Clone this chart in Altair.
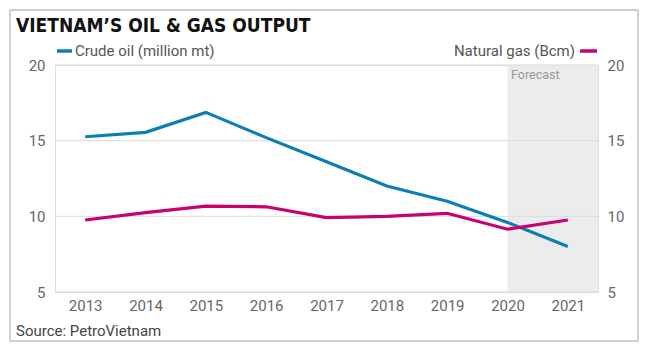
import altair as alt
import pandas as pd

years = [2013, 2014, 2015, 2016, 2017, 2018, 2019, 2020, 2021]
crude_oil = [15.26, 15.55, 16.87, 15.2, 13.6, 12.0, 11.0, 9.6, 8.0]
natural_gas = [9.76, 10.24, 10.68, 10.63, 9.91, 10.0, 10.2, 9.15, 9.76]
x_ticks = [2013, 2014, 2015, 2016, 2017, 2018, 2019, 2020, 2021]
y_ticks = [5, 10, 15, 20]
forecast_start = [2020]
forecast_end = [2021.5]

BLUE = "#0a7fb2"
MAGENTA = "#c9006f"
FONT = "Roboto"
TITLE_FONT = "'DejaVu Sans Condensed', 'Liberation Sans Narrow', Roboto"

df = pd.DataFrame({"year": years, "oil": crude_oil, "gas": natural_gas})
fc = pd.DataFrame({"start": forecast_start, "end": forecast_end})
gr = pd.DataFrame({"v": y_ticks})

W, H = 543, 227
xs = alt.Scale(domain=[2012.5, 2021.5], nice=False, zero=False)
ys = alt.Scale(domain=[5, 20], nice=False, zero=False)

xaxis = alt.Axis(values=x_ticks, format="d", grid=False, domain=False, ticks=False,
                 labelFont=FONT, labelFontSize=15, labelColor="#666", labelPadding=6, title=None)
yaxis_left = alt.Axis(values=y_ticks, grid=False, domain=False, ticks=False,
                      labelFont=FONT, labelFontSize=15, labelColor="#666", labelPadding=10, title=None)
yaxis_right = alt.Axis(values=y_ticks, orient="right", grid=False, domain=False, ticks=False,
                       labelFont=FONT, labelFontSize=15, labelColor="#666", labelPadding=9, title=None)

X = alt.X("year:Q", scale=xs, axis=xaxis)
base = alt.Chart(df)

border = alt.Chart(df).mark_rect(fill=None, stroke="#cfcfcf", strokeWidth=1).encode(
    x=alt.value(-45), x2=alt.value(583), y=alt.value(-55), y2=alt.value(276)
)

shade = alt.Chart(fc).mark_rect(color="#ececec").encode(
    x=alt.X("start:Q", scale=xs, axis=xaxis),
    x2="end:Q",
    y=alt.value(0), y2=alt.value(H),
)

grid = alt.Chart(gr).mark_rule(color="#dadada", strokeWidth=1).encode(
    y=alt.Y("v:Q", scale=ys, axis=yaxis_left),
    x=alt.value(0), x2=alt.value(W),
)

oil_line = base.mark_line(color=BLUE, strokeWidth=3.2).encode(
    x=X, y=alt.Y("oil:Q", scale=ys, axis=None)
)
gas_line = base.mark_line(color=MAGENTA, strokeWidth=3.2).encode(
    x=X, y=alt.Y("gas:Q", scale=ys, axis=None)
)

right_axis = base.mark_line(opacity=0).encode(
    x=X,
    y=alt.Y("gas:Q", scale=ys, axis=yaxis_right),
)

def txt(s, x, y, size, color, align="left", weight="normal", font=FONT):
    return alt.Chart(pd.DataFrame({"t": [s]})).mark_text(
        align=align, baseline="alphabetic", fontSize=size, color=color,
        fontWeight=weight, font=font
    ).encode(text="t:N", x=alt.value(x), y=alt.value(y))

def dash(x1, x2, y, color):
    return alt.Chart(pd.DataFrame({"a": [0]})).mark_rule(color=color, strokeWidth=3.5).encode(
        x=alt.value(x1), x2=alt.value(x2), y=alt.value(y)
    )

title = txt("VIETNAM’S OIL & GAS OUTPUT", -39, -33, 19, "#111", weight="bold", font=TITLE_FONT)
leg_oil = txt("Crude oil (million mt)", 20, -9, 15, "#555")
leg_gas = txt("Natural gas (Bcm)", 520, -9, 15, "#555", align="right")
d_oil = dash(2, 17, -14, BLUE)
d_gas = dash(525, 542, -14, MAGENTA)
forecast = txt("Forecast", 456, 14, 12.5, "#999")
source = txt("Source: PetroVietnam", -39, 271, 15, "#444")

chart = alt.layer(
    border, shade, grid, oil_line, gas_line, right_axis,
    title, leg_oil, leg_gas, d_oil, d_gas, forecast, source
).resolve_scale(y="independent").properties(
    width=W, height=H,
    autosize=alt.AutoSizeParams(type="none"),
    padding={"left": 55, "top": 65, "right": 50, "bottom": 64},
).configure_view(stroke=None).configure(background="white")

chart.save("out.html", embed_options={"renderer": "svg", "actions": False})
